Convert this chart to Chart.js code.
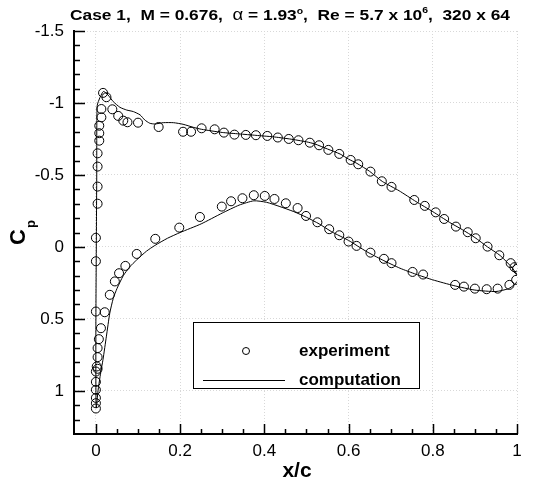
<!DOCTYPE html>
<html>
<head>
<meta charset="utf-8">
<script src="https://cdn.jsdelivr.net/npm/chart.js@4/dist/chart.umd.min.js"></script>
<style>
  body { margin: 0; background: #fff; }
  #cp_chart { display: block; }
</style>
</head>
<body>
<canvas id="cp_chart" width="541" height="484"></canvas>
<script>
// experiment points (x/c, Cp)
const expX = [
  0.017, 0.025, 0.013, 0.013, 0.008, 0.008, 0.008, 0.004, 0.004, 0.004, 0.004, 0.0, 0.0,
  0.0, 0.021, 0.012, 0.007, 0.004, 0.004, 0.002, 0.004, 0.0, 0.0, 0.0, 0.0, 0.0, 0.0,
  0.039, 0.053, 0.065, 0.075, 0.1, 0.149, 0.207, 0.226, 0.251, 0.282, 0.304, 0.329, 0.356,
  0.38, 0.407, 0.432, 0.458, 0.481, 0.508, 0.53, 0.552, 0.578, 0.605, 0.623, 0.652, 0.679,
  0.702, 0.756, 0.781, 0.807, 0.827, 0.855, 0.883, 0.902, 0.93, 0.958, 0.985, 0.994, 1.0,
  0.998, 0.982,
  0.033, 0.045, 0.055, 0.07, 0.097, 0.141, 0.198, 0.247, 0.299, 0.321, 0.348, 0.375, 0.401,
  0.424, 0.451, 0.479, 0.499, 0.526, 0.554, 0.578, 0.6, 0.619, 0.652, 0.684, 0.702, 0.752,
  0.777, 0.853, 0.874, 0.9, 0.928, 0.954
];
const expCp = [
  -1.07, -1.04, -0.958, -0.90, -0.842, -0.79, -0.738, -0.65, -0.558, -0.419, -0.30, -0.063, 0.10,
  0.449, 0.454, 0.565, 0.641, 0.703, 0.766, 0.831, 0.847, 0.866, 0.938, 0.993, 1.049, 1.086, 1.123,
  -0.956, -0.91, -0.877, -0.866, -0.863, -0.833, -0.80, -0.80, -0.824, -0.817, -0.794, -0.78, -0.778,
  -0.776, -0.771, -0.76, -0.75, -0.741, -0.724, -0.706, -0.674, -0.646, -0.604, -0.574, -0.523, -0.456,
  -0.417, -0.326, -0.285, -0.24, -0.194, -0.141, -0.102, -0.06, -0.002, 0.058, 0.113, 0.141, 0.153,
  0.229, 0.264,
  0.333, 0.24, 0.183, 0.132, 0.049, -0.056, -0.134, -0.208, -0.28, -0.317, -0.338, -0.359, -0.354,
  -0.333, -0.303, -0.27, -0.215, -0.171, -0.123, -0.081, -0.037, -0.007, 0.04, 0.083, 0.113, 0.174,
  0.192, 0.264, 0.276, 0.29, 0.294, 0.29
];

// computation: upper surface TE -> LE, then lower surface LE -> TE
const compX = [
  1.0, 0.99, 0.96, 0.93, 0.9, 0.87, 0.84, 0.8, 0.76, 0.72, 0.68, 0.65, 0.62, 0.6, 0.58, 0.55,
  0.52, 0.5, 0.46, 0.42, 0.38, 0.34, 0.3, 0.251, 0.231, 0.207, 0.184, 0.16, 0.14, 0.128, 0.116,
  0.105, 0.089, 0.073, 0.057, 0.041, 0.029, 0.018, 0.01, 0.003, 0.002, 0.001, 0.0, 0.0, 0.001,
  0.005, 0.01, 0.017, 0.025, 0.033, 0.041, 0.05, 0.065, 0.08, 0.097, 0.12, 0.14, 0.17, 0.2,
  0.25, 0.3, 0.34, 0.375, 0.405, 0.437, 0.47, 0.5, 0.53, 0.56, 0.6, 0.643, 0.68, 0.722, 0.76,
  0.8, 0.85, 0.9, 0.95, 0.98, 0.995, 1.0
];
const compCp = [
  0.2, 0.15, 0.06, 0.0, -0.065, -0.12, -0.17, -0.245, -0.315, -0.39, -0.455, -0.525, -0.58, -0.61, -0.645, -0.68,
  -0.715, -0.73, -0.75, -0.765, -0.775, -0.785, -0.795, -0.817, -0.831, -0.852, -0.863, -0.863, -0.854, -0.859, -0.882,
  -0.917, -0.94, -0.951, -0.97, -1.01, -1.055, -1.08, -1.04, -0.98, -0.5, 0.0, 0.5, 1.0, 1.12,
  1.0, 0.9, 0.78, 0.62, 0.46, 0.36, 0.29, 0.2, 0.14, 0.09, 0.03, -0.01, -0.06, -0.1,
  -0.16, -0.235, -0.29, -0.32, -0.31, -0.28, -0.245, -0.206, -0.16, -0.105, -0.045, 0.033, 0.09, 0.148, 0.19,
  0.229, 0.269, 0.3, 0.31, 0.29, 0.26, 0.24
];

const xTicks = [0, 0.2, 0.4, 0.6, 0.8, 1];
const yTicks = [-1.5, -1, -0.5, 0, 0.5, 1];
const xMinorStep = 0.05;
const yMinorStep = 0.1;

const expData = expX.map((x, i) => ({x: x, y: expCp[i]}));
const compData = compX.map((x, i) => ({x: x, y: compCp[i]}));

const FONT = "'Liberation Sans', Arial, Helvetica, sans-serif";

// inward ticks, title, axis titles and framed legend
const decoPlugin = {
  id: 'deco',
  afterDraw(chart) {
    const ctx = chart.ctx;
    const xs = chart.scales.x;
    const ys = chart.scales.y;
    const a = chart.chartArea;
    ctx.save();
    ctx.strokeStyle = '#000';
    ctx.lineWidth = 1.5;
    ctx.beginPath();
    for (let v = 0; v <= 1.0001; v += xMinorStep) {
      const px = Math.round(xs.getPixelForValue(v)) + 0.5;
      const major = xTicks.some(t => Math.abs(t - v) < 1e-6);
      ctx.moveTo(px, a.bottom);
      ctx.lineTo(px, a.bottom - (major ? 10 : 5));
    }
    for (let v = -1.5; v <= 1.2501; v += yMinorStep) {
      const py = Math.round(ys.getPixelForValue(v)) + 0.5;
      const major = yTicks.some(t => Math.abs(t - v) < 1e-6);
      ctx.moveTo(a.left, py);
      ctx.lineTo(a.left + (major ? 11 : 6), py);
    }
    ctx.stroke();

    // title, stretched to the width of the original
    ctx.fillStyle = '#000';
    ctx.textBaseline = 'alphabetic';
    ctx.textAlign = 'left';
    const parts = [
      ['Case 1,  M = 0.676,  ', 'bold 15px ' + FONT, 0],
      ['\u03b1', '16px ' + FONT, 0],
      [' = 1.93', 'bold 15px ' + FONT, 0],
      ['o', 'bold 9px ' + FONT, -6],
      [',  Re = 5.7 x 10', 'bold 15px ' + FONT, 0],
      ['6', 'bold 9px ' + FONT, -7],
      [',  320 x 64', 'bold 15px ' + FONT, 0]
    ];
    let total = 0;
    parts.forEach(p => { ctx.font = p[1]; total += ctx.measureText(p[0]).width; });
    ctx.save();
    ctx.translate(70, 20);
    ctx.scale(440 / total, 1);
    let tx = 0;
    parts.forEach(p => {
      ctx.font = p[1];
      ctx.fillText(p[0], tx, p[2]);
      tx += ctx.measureText(p[0]).width;
    });
    ctx.restore();

    // x axis title
    ctx.font = 'bold 21px ' + FONT;
    ctx.textAlign = 'center';
    ctx.fillText('x/c', 297, 477);

    // y axis title C_p
    ctx.save();
    ctx.translate(25, 245);
    ctx.rotate(-Math.PI / 2);
    ctx.textAlign = 'left';
    ctx.font = 'bold 22px ' + FONT;
    ctx.fillText('C', 0, 0);
    ctx.font = 'bold 13px ' + FONT;
    ctx.fillText('p', 17, 10);
    ctx.restore();

    // legend
    ctx.fillStyle = '#fff';
    ctx.fillRect(193, 322, 227, 66);
    ctx.strokeStyle = '#000';
    ctx.lineWidth = 1;
    ctx.strokeRect(193.5, 322.5, 226, 66);
    ctx.beginPath();
    ctx.arc(246, 351, 3.5, 0, Math.PI * 2);
    ctx.stroke();
    ctx.beginPath();
    ctx.moveTo(203, 380.5);
    ctx.lineTo(285, 380.5);
    ctx.stroke();
    ctx.fillStyle = '#000';
    ctx.font = 'bold 17px ' + FONT;
    ctx.textAlign = 'left';
    ctx.fillText('experiment', 299, 356);
    ctx.fillText('computation', 299, 385);
    ctx.restore();
  }
};

new Chart(document.getElementById('cp_chart'), {
  type: 'scatter',
  data: {
    datasets: [
      {
        label: 'experiment',
        data: expData,
        pointStyle: 'circle',
        pointRadius: 4.5,
        pointBorderWidth: 1,
        borderColor: '#000',
        backgroundColor: 'rgba(0,0,0,0)',
        showLine: false
      },
      {
        label: 'computation',
        data: compData,
        showLine: true,
        pointRadius: 0,
        borderColor: '#000',
        borderWidth: 1,
        tension: 0.2
      }
    ]
  },
  options: {
    responsive: false,
    animation: false,
    devicePixelRatio: 1,
    layout: { padding: { top: 31, right: 24, left: 0, bottom: 0 } },
    plugins: {
      legend: { display: false },
      tooltip: { enabled: false }
    },
    scales: {
      x: {
        type: 'linear',
        min: -0.052,
        max: 1.0,
        afterBuildTicks: s => { s.ticks = xTicks.map(v => ({value: v})); },
        afterFit: s => { s.height = 50; },
        grid: { color: '#d8d8d8', lineWidth: 1, drawTicks: false },
        border: { display: true, color: '#000', width: 2, dash: [1, 2] },
        ticks: {
          color: '#000',
          font: { family: FONT, size: 17 },
          padding: 7,
          callback: v => String(v)
        }
      },
      y: {
        type: 'linear',
        reverse: true,
        min: -1.5,
        max: 1.3,
        afterBuildTicks: s => { s.ticks = yTicks.map(v => ({value: v})); },
        afterFit: s => { s.width = 74; },
        grid: { color: '#d8d8d8', lineWidth: 1, drawTicks: false },
        border: { display: true, color: '#000', width: 2, dash: [1, 2] },
        ticks: {
          color: '#000',
          font: { family: FONT, size: 17 },
          padding: 10,
          callback: v => String(v)
        }
      }
    }
  },
  plugins: [decoPlugin]
});
</script>
</body>
</html>
